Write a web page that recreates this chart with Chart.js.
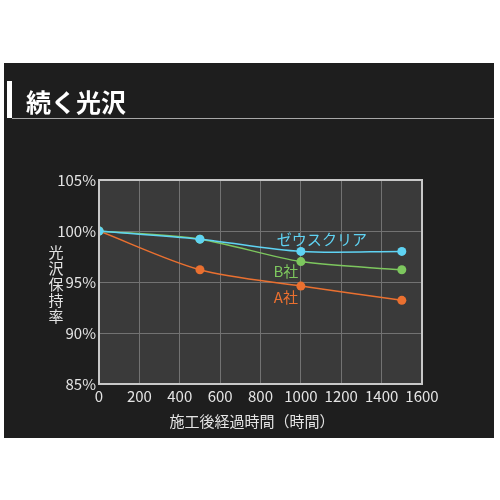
<!DOCTYPE html>
<html><head><meta charset="utf-8">
<script src="https://cdn.jsdelivr.net/npm/chart.js@4"></script>
<style>
html,body{margin:0;padding:0;background:#fff;width:500px;height:500px;overflow:hidden}
#wrap{position:absolute;left:0;top:0;width:500px;height:500px}
</style></head><body>
<div id="wrap"><canvas id="c" width="500" height="500"></canvas></div>
<script>
const hours = [0, 500, 1000, 1500];
const seriesNames = ['ゼウスクリア', 'B社', 'A社'];
const zeusValues = [100, 99.2, 98.0, 98.0];
const bValues = [100, 99.2, 97.0, 96.2];
const aValues = [100, 96.2, 94.6, 93.2];
const colors = ['#5fd3f3', '#7dc75e', '#ea7030'];
const yTicksLabel = v => v + '%';
const xTicksLabel = v => String(v);
const chartTitle = '続く光沢';
const xTitle = '施工後経過時間（時間）';
const yTitle = ['光','沢','保','持','率'];

const FONT = '"Noto Sans CJK JP", "Noto Sans", sans-serif';

const mk = (vals) => hours.map((h, i) => ({x: h, y: vals[i]}));

const bgPlugin = {
  id: 'bg',
  beforeDraw(chart) {
    const ctx = chart.ctx, a = chart.chartArea;
    ctx.save();
    ctx.fillStyle = '#1e1e1e';
    ctx.fillRect(4, 63, 490, 375);
    ctx.fillStyle = '#ffffff';
    ctx.fillRect(7, 81, 5, 37);
    ctx.strokeStyle = '#a8a8a8';
    ctx.lineWidth = 1;
    ctx.beginPath(); ctx.moveTo(12, 118.5); ctx.lineTo(494, 118.5); ctx.stroke();
    ctx.font = 'bold 25px ' + FONT;
    ctx.textBaseline = 'middle';
    ctx.textAlign = 'left';
    ctx.fillText(chartTitle, 26, 102);
    ctx.fillStyle = '#3a3a3a';
    ctx.fillRect(a.left, a.top, a.right - a.left, a.bottom - a.top);
    ctx.restore();
  },
  afterDatasetsDraw(chart) {
    const ctx = chart.ctx, a = chart.chartArea;
    const xs = chart.scales.x, ys = chart.scales.y;
    ctx.save();
    ctx.strokeStyle = '#c8c8c8';
    ctx.lineWidth = 2;
    ctx.strokeRect(a.left, a.top, a.right - a.left, a.bottom - a.top);
    ctx.font = '15px ' + FONT;
    ctx.textAlign = 'center';
    ctx.textBaseline = 'middle';
    const lbl = [
      {i: 0, dx: 21, dy: -12},
      {i: 1, dx: -15, dy: 10},
      {i: 2, dx: -15, dy: 11}
    ];
    const data = [zeusValues, bValues, aValues];
    lbl.forEach(l => {
      const px = xs.getPixelForValue(hours[2]) + l.dx;
      const py = ys.getPixelForValue(data[l.i][2]) + l.dy;
      ctx.fillStyle = colors[l.i];
      ctx.fillText(seriesNames[l.i], px, py);
    });
    ctx.fillStyle = '#e4e4e4';
    ctx.font = '15px ' + FONT;
    yTitle.forEach((ch, k) => ctx.fillText(ch, 56, 252 + k * 16));
    ctx.fillText(xTitle, 252, 421);
    ctx.restore();
  }
};

new Chart(document.getElementById('c'), {
  type: 'line',
  data: {
    datasets: [
      {label: seriesNames[0], data: mk(zeusValues), borderColor: colors[0], backgroundColor: colors[0]},
      {label: seriesNames[1], data: mk(bValues), borderColor: colors[1], backgroundColor: colors[1]},
      {label: seriesNames[2], data: mk(aValues), borderColor: colors[2], backgroundColor: colors[2]}
    ]
  },
  options: {
    responsive: false,
    animation: false,
    layout: {padding: {left: 0, top: 180, right: 78, bottom: 0}},
    elements: {
      line: {borderWidth: 1.5, tension: 0.3, fill: false},
      point: {radius: 4.5, borderWidth: 0}
    },
    plugins: {legend: {display: false}, tooltip: {enabled: false}},
    scales: {
      x: {
        type: 'linear', min: 0, max: 1600,
        ticks: {stepSize: 200, autoSkip: false, callback: xTicksLabel, color: '#e4e4e4', font: {family: FONT, size: 15}, padding: 3, maxRotation: 0},
        grid: {color: '#727272', lineWidth: 1, drawTicks: false},
        border: {display: false},
        afterFit(s) { s.height = 116; }
      },
      y: {
        min: 85, max: 105,
        ticks: {stepSize: 5, callback: yTicksLabel, color: '#e4e4e4', font: {family: FONT, size: 15}, padding: 3},
        grid: {color: '#727272', lineWidth: 1, drawTicks: false},
        border: {display: false},
        afterFit(s) { s.width = 99; }
      }
    }
  },
  plugins: [bgPlugin]
});
</script>
</body></html>
